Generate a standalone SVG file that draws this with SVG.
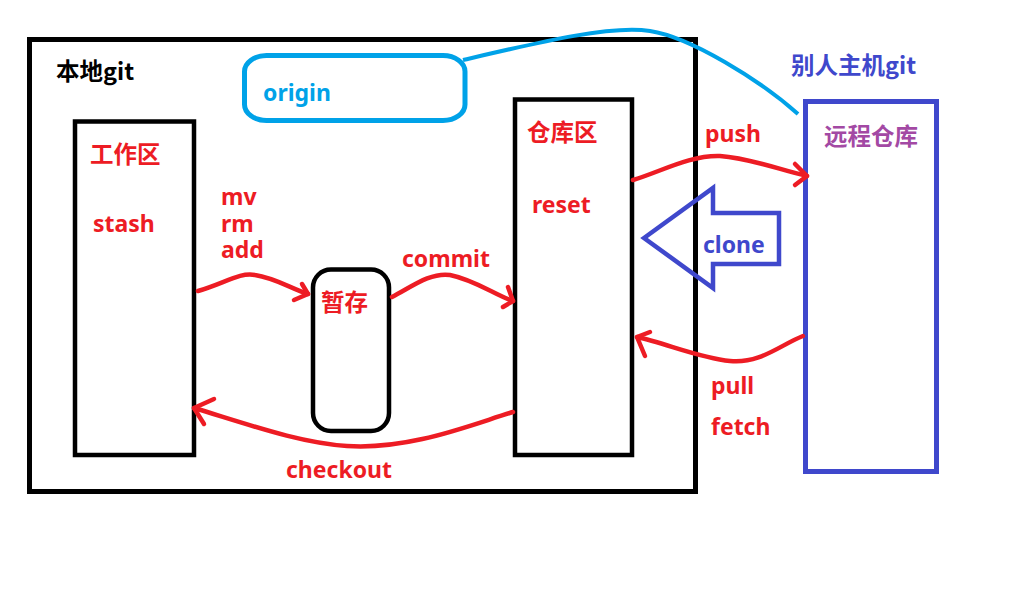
<svg xmlns="http://www.w3.org/2000/svg" width="1018" height="596" viewBox="0 0 1018 596">
<style>
.box{fill:none;stroke:#000;stroke-width:4.5}
.bbox{fill:none;stroke:#3f48cc;stroke-width:5}
.ob{fill:none;stroke:#00a2e8;stroke-width:5}
.arr{fill:none;stroke:#ed1c24;stroke-width:4.5;stroke-linecap:round;stroke-linejoin:round}
.t{font-family:"Noto Sans","Noto Sans CJK SC",sans-serif;font-weight:bold;font-size:23px}
.c{font-family:"Noto Sans CJK SC",sans-serif;font-weight:bold;font-size:23.5px}
.red{fill:#ed1c24}
</style>
<rect width="1018" height="596" fill="#fff"/>
<g id="local">
<rect class="box" x="29.5" y="39.5" width="666" height="452" style="stroke-width:5"/>
<text class="c" x="56" y="80" fill="#000">本地git</text>
</g>
<g id="origin">
<rect class="ob" x="244.5" y="55.5" width="220.5" height="65" rx="22" ry="16"/>
<text class="t" x="263" y="101" fill="#00a2e8">origin</text>
</g>
<g id="workspace">
<rect class="box" x="75" y="121.5" width="119" height="333.5"/>
<text class="c red" x="90" y="163">工作区</text>
<text class="t red" x="93" y="232">stash</text>
</g>
<g id="stage">
<rect class="box" x="313" y="269.5" width="76" height="161.5" rx="18"/>
<text class="c red" x="321" y="311">暂存</text>
</g>
<g id="repo">
<rect class="box" x="515" y="99.5" width="117" height="355.5"/>
<text class="c red" x="527" y="141">仓库区</text>
<text class="t red" x="532" y="213">reset</text>
</g>
<g id="remote">
<rect class="bbox" x="805.5" y="101.5" width="131" height="370"/>
<text class="c" x="824" y="145" fill="#a349a4">远程仓库</text>
<text class="c" x="791" y="74" fill="#3f48cc">别人主机git</text>
</g>
<g id="connectors">
<path class="ob" style="stroke-width:4" d="M463,60 C540,42 610,25 650,31 C690,37 760,80 798,114"/>
<path class="arr" d="M198,291 C225,283 240,272 255,275 C275,278 290,288 308,294"/>
<path class="arr" d="M302,284 L308,294 L294,300"/>
<path class="arr" d="M392,297 C410,288 430,272 450,275 C475,280 495,295 513,301"/>
<path class="arr" d="M508,287 L513,301 L503,307"/>
<path class="arr" d="M513,412 C470,425 410,450 347,446 C300,443 250,425 194,408"/>
<path class="arr" d="M214,399 L194,408 L204,424"/>
<path class="arr" d="M633,180 C660,172 690,155 720,156 C750,158 780,170 807,176"/>
<path class="arr" d="M795,164 L807,176 L795,185"/>
<path class="arr" d="M803,336 C780,345 760,364 730,361 C700,358 665,343 637,337"/>
<path class="arr" d="M650,332 L637,337 L645,356"/>
<polygon points="644,238 713,188 713,213 779,213 779,264 713,264 713,288" fill="none" stroke="#3f48cc" stroke-width="4.5"/>
<text class="t" x="703" y="253" fill="#3f48cc">clone</text>
<text class="t red" x="221" y="205">mv</text>
<text class="t red" x="221" y="232">rm</text>
<text class="t red" x="221" y="258">add</text>
<text class="t red" x="402" y="267">commit</text>
<text class="t red" x="705" y="142">push</text>
<text class="t red" x="711" y="394">pull</text>
<text class="t red" x="711" y="435">fetch</text>
<text class="t red" x="286" y="478">checkout</text>
</g>
</svg>
